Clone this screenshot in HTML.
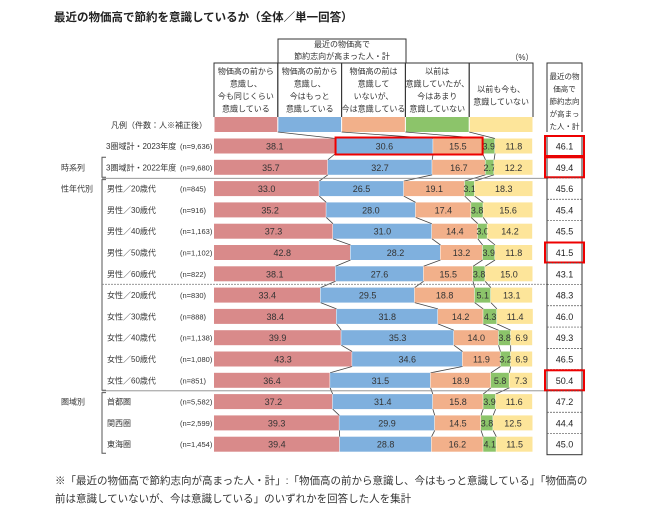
<!DOCTYPE html>
<html><head><meta charset="utf-8"><style>
html,body{margin:0;padding:0;background:#fff;}
svg{display:block;font-family:"Liberation Sans","Noto Sans CJK JP",sans-serif;}
</style></head><body>
<svg id="chart" width="650" height="519" viewBox="0 0 650 519">
<text x="54" y="21" font-size="11.5" font-weight="bold" fill="#222">最近の物価高で節約を意識しているか（全体／単一回答）</text>
<g id="hdr"></g>
<g id="conn"></g>
<g id="bars"></g>
<g id="labels"></g>
<g id="right"></g>
<text x="55" y="484" font-size="10.5" fill="#333">※「最近の物価高で節約志向が高まった人・計」:「物価高の前から意識し、今はもっと意識している」「物価高の</text>
<text x="55" y="502" font-size="10.5" fill="#333">前は意識していないが、今は意識している」のいずれかを回答した人を集計</text>
</svg>
<script>
const rowLabels=["3圏域計・2023年度","3圏域計・2022年度","男性／20歳代","男性／30歳代","男性／40歳代","男性／50歳代","男性／60歳代","女性／20歳代","女性／30歳代","女性／40歳代","女性／50歳代","女性／60歳代","首都圏","関西圏","東海圏"];
const nLabels=["(n=9,636)","(n=9,680)","(n=845)","(n=916)","(n=1,163)","(n=1,102)","(n=822)","(n=830)","(n=888)","(n=1,138)","(n=1,080)","(n=851)","(n=5,582)","(n=2,599)","(n=1,454)"];
const s1=[38.1,35.7,33.0,35.2,37.3,42.8,38.1,33.4,38.4,39.9,43.3,36.4,37.2,39.3,39.4];
const s2=[30.6,32.7,26.5,28.0,31.0,28.2,27.6,29.5,31.8,35.3,34.6,31.5,31.4,29.9,28.8];
const s3=[15.5,16.7,19.1,17.4,14.4,13.2,15.5,18.8,14.2,14.0,11.9,18.9,15.8,14.5,16.2];
const s4=[3.9,2.7,3.1,3.8,3.0,3.9,3.8,5.1,4.3,3.8,3.2,5.8,3.9,3.8,4.1];
const s5=[11.8,12.2,18.3,15.6,14.2,11.8,15.0,13.1,11.4,6.9,6.9,7.3,11.6,12.5,11.5];
const totals=[46.1,49.4,45.6,45.4,45.5,41.5,43.1,48.3,46.0,49.3,46.5,50.4,47.2,44.4,45.0];
const highlighted=[0,1,5,11];
const headers=[["物価高の前から","意識し、","今も同じくらい","意識している"],["物価高の前から","意識し、","今はもっと","意識している"],["物価高の前は","意識して","いないが、","今は意識している"],["以前は","意識していたが、","今はあまり","意識していない"],["以前も今も、","意識していない"]];
const colors=["#d98a8a","#7fb0de","#f2b08a","#8cc46a","#fde59a"];
const series=[s1,s2,s3,s4,s5];
const NS="http://www.w3.org/2000/svg";
const X0=214,W=319,BH=15;
const xs=v=>X0+v/100*W;
const ys=i=>146+i*21.3;
function mk(tag,attrs,parent,txt){const e=document.createElementNS(NS,tag);for(const k in attrs)e.setAttribute(k,attrs[k]);if(txt!==undefined)e.textContent=txt;parent.appendChild(e);return e;}
const hdr=document.getElementById('hdr'),bars=document.getElementById('bars'),conn=document.getElementById('conn'),labels=document.getElementById('labels'),right=document.getElementById('right');
// header top box
let e=mk('path',{d:"M278 63 V39 H406 V63",fill:"none",stroke:"#333","stroke-width":"1"},hdr);

e=mk('text',{x:342,y:47,"font-size":"8","text-anchor":"middle",fill:"#333"},hdr,"最近の物価高で");

e=mk('text',{x:342,y:59,"font-size":"8","text-anchor":"middle",fill:"#333"},hdr,"節約志向が高まった人・計");

e=mk('text',{x:522,y:60,"font-size":"8","text-anchor":"middle",fill:"#333"},hdr,"（%）");

const cw=W/5;
for(let c=0;c<5;c++){
  const x=X0+c*cw;
  e=mk('path',{d:`M${x} 117 V63 H${x+cw} V117`,fill:"none",stroke:"#333","stroke-width":"1"},hdr);
  
  const lines=headers[c];const y0=c===4?92:74;
  lines.forEach((t,k)=>{
    e=mk('text',{x:x+cw/2,y:y0+k*12.5,"font-size":"8","text-anchor":"middle",fill:"#333"},hdr,t);
    
  });
  e=mk('rect',{x:x+0.5,y:117,width:cw-1,height:BH,fill:colors[c]},hdr);
  
}
e=mk('text',{x:207,y:128,"font-size":"8","text-anchor":"end",fill:"#333"},hdr,"凡例（件数：人※補正後）");

// right header
e=mk('path',{d:"M547 132 V63 H582 V132",fill:"none",stroke:"#333","stroke-width":"1"},hdr);

["最近の物","価高で","節約志向","が高まっ","た人・計"].forEach((t,k)=>{
  e=mk('text',{x:564.5,y:79+k*12.5,"font-size":"7.5","text-anchor":"middle",fill:"#333"},hdr,t);
  
});
// bars
const cum=[];
for(let i=0;i<s1.length;i++){
  let acc=0;const b=[0];
  for(let c=0;c<5;c++){
    const v=series[c][i];const x=xs(acc),w=xs(acc+v)-x;
    e=mk('rect',{x:x,y:ys(i)-BH/2,width:Math.max(0,w-0.5),height:BH,fill:colors[c]},bars);
    
    e=mk('text',{x:x+w/2,y:ys(i)+3.5,"font-size":"9","text-anchor":"middle",fill:"#333"},bars,v.toFixed(1));
    
    acc+=v;b.push(acc);
  }
  cum.push(b);
}
// connectors
for(let i=-1;i<s1.length-1;i++){
  for(let k=1;k<=4;k++){
    const xa=i<0?X0+k*cw:xs(cum[i][k]),ya=i<0?132:ys(i)+BH/2;
    const xb=xs(cum[i+1][k]),yb=ys(i+1)-BH/2;
    e=mk('line',{x1:xa,y1:ya,x2:xb,y2:yb,stroke:"#444","stroke-width":"0.8"},conn);
    
  }
}
// highlight box on row 0 blue+orange
e=mk('rect',{x:xs(s1[0]),y:ys(0)-BH/2-1,width:xs(s1[0]+s2[0]+s3[0])-xs(s1[0]),height:BH+2,fill:"none",stroke:"#e00", "stroke-width":"2"},bars);

// labels
for(let i=0;i<rowLabels.length;i++){
  e=mk('text',{x:i<2?106:107,y:ys(i)+3,"font-size":"8",fill:"#333"},labels,rowLabels[i]);
  
  e=mk('text',{x:180,y:ys(i)+3,"font-size":"7.5",fill:"#333"},labels,nLabels[i]);
  
}
[["時系列",1],["性年代別",2],["圏域別",12]].forEach(([t,i])=>{
  e=mk('text',{x:61,y:ys(i)+3,"font-size":"8",fill:"#333"},labels,t);
  
});
[[ys(1)-10,ys(1)+10],[ys(2)-9,ys(11)+10],[ys(12)-9,ys(14)+9]].forEach(([a,b])=>{
  e=mk('path',{d:`M106 ${a} H102 V${b} H106`,fill:"none",stroke:"#555","stroke-width":"1"},labels);
  
});
[[ys(1)+11,""],[ys(6)+10.5,"2,1"],[ys(11)+10.5,""]].forEach(([y,d])=>{
  e=mk('line',{x1:102,y1:y,x2:548,y2:y,stroke:"#888","stroke-width":"0.8","stroke-dasharray":d},labels);
  
});
// right column
e=mk('rect',{x:547,y:ys(0)-10.5,width:35,height:ys(14)-ys(0)+21,fill:"none",stroke:"#333","stroke-width":"1"},right);

for(let i=0;i<totals.length;i++){
  if(i>0){e=mk('line',{x1:547,y1:ys(i)-10.65,x2:582,y2:ys(i)-10.65,stroke:"#555","stroke-width":"0.7","stroke-dasharray":"2,1"},right);
  }
  e=mk('text',{x:564.5,y:ys(i)+3.5,"font-size":"9","text-anchor":"middle",fill:"#222"},right,totals[i].toFixed(1));
  
  if(highlighted.includes(i)){
    e=mk('rect',{x:545,y:ys(i)-10,width:39,height:20,fill:"none",stroke:"#e00","stroke-width":"2"},right);
    
  }
}
</script>
</body></html>
